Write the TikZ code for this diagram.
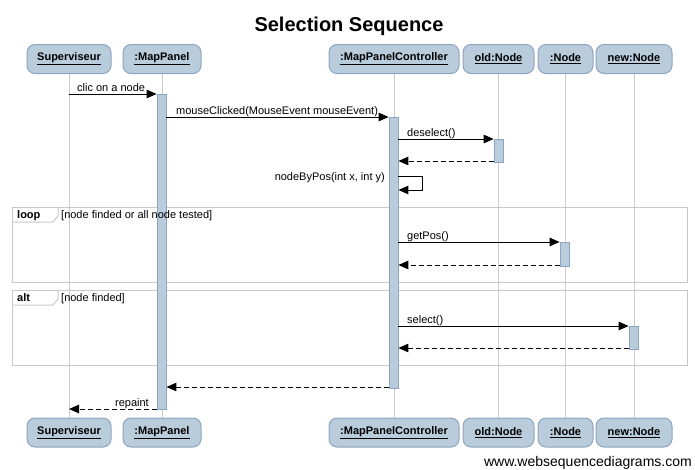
\documentclass[tikz,border=0pt]{standalone}
\usepackage{fontspec}
\setmainfont{Liberation Sans}
\usetikzlibrary{arrows.meta}
\definecolor{boxfill}{HTML}{B9CCDB}
\definecolor{boxdraw}{HTML}{8EA4C2}
\definecolor{lifecol}{HTML}{CCCCCC}
\definecolor{framecol}{HTML}{C8C8C8}
\begin{document}
\begin{tikzpicture}[x=1pt,y=-1pt,
 part/.style={draw=boxdraw, fill=boxfill, rounded corners=8pt, minimum height=29pt, inner sep=0pt, font=\fontsize{11}{13}\selectfont\bfseries, line width=1pt},
 actbar/.style={draw=boxdraw, fill=boxfill, minimum width=9pt, inner sep=0pt, line width=0.8pt},
 life/.style={draw=lifecol, line width=1pt},
 msg/.style={-{Triangle[length=10pt,width=8.5pt]}, line width=1pt},
 ret/.style={msg, dash pattern=on 5pt off 3pt},
 lbl/.style={font=\fontsize{11}{13}\selectfont, inner sep=0pt},
 frm/.style={draw=framecol, line width=1pt},
]
\useasboundingbox (0,0) rectangle (695,469);
% title
\node[font=\fontsize{20}{24}\selectfont\bfseries, anchor=base, inner sep=0pt] (title) at (349,31) {Selection Sequence};
% participants
\node[part, minimum width=84pt] (supT) at (69,59) {\underline{Superviseur}};
\node[part, minimum width=78pt] (mpT) at (162,59) {\underline{:MapPanel}};
\node[part, minimum width=130pt] (mpcT) at (394,59) {\underline{:MapPanelController}};
\node[part, minimum width=71pt] (oldT) at (498.5,59) {\underline{old:Node}};
\node[part, minimum width=55pt] (nodT) at (565.5,59) {\underline{:Node}};
\node[part, minimum width=76pt] (newT) at (634,59) {\underline{new:Node}};
\node[part, minimum width=84pt] (supB) at (69,432.5) {\underline{Superviseur}};
\node[part, minimum width=78pt] (mpB) at (162,432.5) {\underline{:MapPanel}};
\node[part, minimum width=130pt] (mpcB) at (394,432.5) {\underline{:MapPanelController}};
\node[part, minimum width=71pt] (oldB) at (498.5,432.5) {\underline{old:Node}};
\node[part, minimum width=55pt] (nodB) at (565.5,432.5) {\underline{:Node}};
\node[part, minimum width=76pt] (newB) at (634,432.5) {\underline{new:Node}};
% lifelines
\draw[life] (supT.south) -- (supB.north);
\draw[life] (mpT.south) -- (mpB.north);
\draw[life] (mpcT.south) -- (mpcB.north);
\draw[life] (oldT.south) -- (oldB.north);
\draw[life] (nodT.south) -- (nodB.north);
\draw[life] (newT.south) -- (newB.north);
% frames
\draw[frm] (12,207) rectangle (687,282);
\draw[frm] (12,222) -- (53,222) -- (58,216) -- (58,207);
\draw[frm] (12,290) rectangle (687,365);
\draw[frm] (12,305) -- (53,305) -- (58,299) -- (58,290);
% activation bars
\node[actbar, minimum height=315pt] (a1) at (161.5,251.5) {};
\node[actbar, minimum height=271pt] (a2) at (393.5,252.5) {};
\node[actbar, minimum height=23pt] (a3) at (498.5,150.5) {};
\node[actbar, minimum height=24pt] (a4) at (564.5,254) {};
\node[actbar, minimum height=23pt] (a5) at (633.5,337.5) {};
% frame labels
\node[lbl, font=\fontsize{11}{13}\selectfont\bfseries, anchor=base west] (loopl) at (17,218) {loop};
\node[lbl, anchor=base west] (loopg) at (61,218) {[node finded or all node tested]};
\node[lbl, font=\fontsize{11}{13}\selectfont\bfseries, anchor=base west] (altl) at (17,301) {alt};
\node[lbl, anchor=base west] (altg) at (61,301) {[node finded]};
% messages
\draw[msg] (supT |- 0,94) -- (a1.west |- 0,94);
\node[lbl, anchor=base west] (l1) at (77,91) {clic on a node};
\draw[msg] (a1.east |- 0,117) -- (a2.west |- 0,117);
\node[lbl, anchor=base west] (l2) at (176,114) {mouseClicked(MouseEvent mouseEvent)};
\draw[msg] (a2.east |- 0,139) -- (a3.west |- 0,139);
\node[lbl, anchor=base west] (l3) at (407,136) {deselect()};
\draw[ret] (a3.west |- 0,161) -- (a2.east |- 0,161);
\draw[msg] (a2.east |- 0,176) -- ++(24,0) |- (a2.east |- 0,190);
\node[lbl, anchor=base east] (l4) at (385,180) {nodeByPos(int x, int y)};
\draw[msg] (a2.east |- 0,242) -- (a4.west |- 0,242);
\node[lbl, anchor=base west] (l5) at (407,239) {getPos()};
\draw[ret] (a4.west |- 0,265) -- (a2.east |- 0,265);
\draw[msg] (a2.east |- 0,326) -- (a5.west |- 0,326);
\node[lbl, anchor=base west] (l6) at (407,323) {select()};
\draw[ret] (a5.west |- 0,348) -- (a2.east |- 0,348);
\draw[ret] (a2.west |- 0,387) -- (a1.east |- 0,387);
\draw[ret] (a1.west |- 0,409) -- (supT |- 0,409);
\node[lbl, anchor=base east] (l7) at (149,406) {repaint};
% watermark
\node[font=\fontsize{14}{16}\selectfont, anchor=base east, inner sep=0pt] (wm) at (692,466) {www.websequencediagrams.com};
\end{tikzpicture}
\end{document}
